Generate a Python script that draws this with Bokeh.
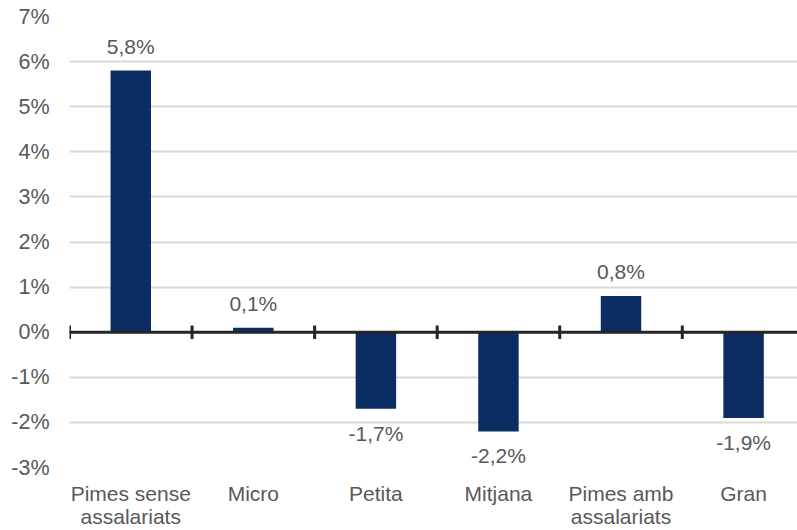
from bokeh.plotting import figure
from bokeh.models import Range1d, FixedTicker, ColumnDataSource, CustomJSTickFormatter
from bokeh.core.properties import value
from bokeh.embed import file_html
from bokeh.resources import INLINE

categories = ["Pimes sense\nassalariats", "Micro", "Petita", "Mitjana", "Pimes amb\nassalariats", "Gran"]
values = [5.8, 0.1, -1.7, -2.2, 0.8, -1.9]
labels = ["5,8%", "0,1%", "-1,7%", "-2,2%", "0,8%", "-1,9%"]
y_ticks = [-3, -2, -1, 0, 1, 2, 3, 4, 5, 6, 7]

FONT = "Liberation Sans"
GREY = "#595959"
n = len(categories)
xs = [i + 0.5 for i in range(n)]

p = figure(frame_width=728, frame_height=451, output_backend="svg", toolbar_location=None,
           x_range=Range1d(0, n - 0.06), y_range=Range1d(-3, 7),
           min_border_left=69, min_border_right=0, min_border_top=16, min_border_bottom=0)
p.outline_line_color = None
p.background_fill_color = "white"
p.border_fill_color = "white"

p.xaxis.ticker = FixedTicker(ticks=xs)
p.xaxis.major_label_overrides = {x: c for x, c in zip(xs, categories)}
p.xaxis.axis_line_color = None
p.xaxis.major_tick_line_color = None
p.xaxis.minor_tick_line_color = None
p.xaxis.major_label_text_font = FONT
p.xaxis.major_label_text_font_size = "21px"
p.xaxis.major_label_text_color = GREY
p.xaxis.major_label_standoff = 8
p.xaxis.major_label_text_line_height = 1.0
p.xgrid.visible = False

p.yaxis.ticker = FixedTicker(ticks=y_ticks)
p.yaxis.formatter = CustomJSTickFormatter(code="return tick.toFixed(0) + '%';")
p.yaxis.axis_line_color = None
p.yaxis.major_tick_line_color = None
p.yaxis.minor_tick_line_color = None
p.yaxis.major_label_text_font = FONT
p.yaxis.major_label_text_font_size = "21.5px"
p.yaxis.major_label_text_color = GREY
p.yaxis.major_label_standoff = 14
p.ygrid.ticker = FixedTicker(ticks=y_ticks)
p.ygrid.grid_line_color = "#d9d9d9"
p.ygrid.grid_line_width = 2

src = ColumnDataSource(dict(x=xs, top=values, lab=labels,
                            ly=values,
                            off=[-13 if v >= 0 else 13 for v in values],
                            base=["bottom" if v >= 0 else "top" for v in values]))
p.vbar(x="x", top="top", bottom=0, width=0.33, source=src, color="#0c2d63", line_color=None)

p.text(x="x", y="ly", text="lab", y_offset="off", text_baseline="base", source=src,
       text_align="center", text_font=value(FONT), text_font_size="21px", text_color=GREY)

# zero line with category-separator ticks
p.line(x=[0, n], y=[0, 0], line_color="#262626", line_width=3)
bounds = list(range(n + 1))
p.segment(x0=bounds, x1=bounds, y0=[-0.15] * len(bounds), y1=[0.15] * len(bounds),
          line_color="#262626", line_width=3)

open("out.html", "w").write(file_html(p, INLINE))
